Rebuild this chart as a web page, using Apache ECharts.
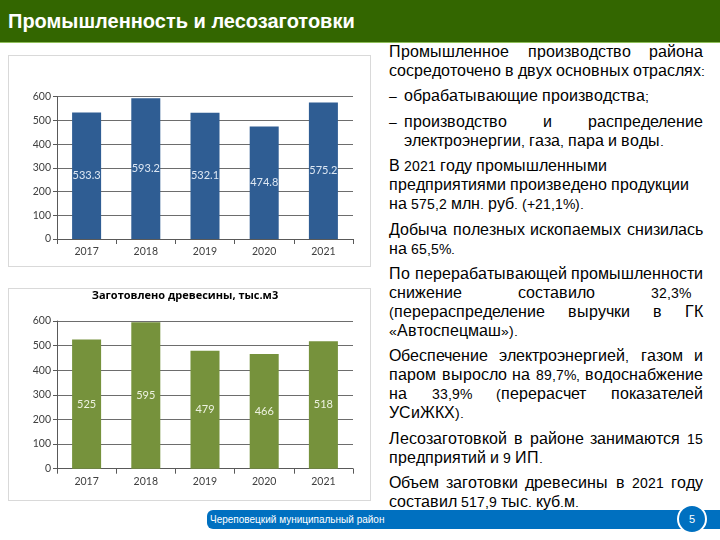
<!DOCTYPE html>
<html><head><meta charset="utf-8">
<script src="https://cdn.jsdelivr.net/npm/echarts@6/dist/echarts.min.js"></script>
<style>
@font-face{font-family:'TxtMix';src:local('Liberation Sans'),local('LiberationSans');unicode-range:U+0000-00FF,U+2000-206F;size-adjust:91%;}
@font-face{font-family:'TxtMix';src:local('Liberation Sans'),local('LiberationSans');unicode-range:U+0400-04FF;}
html,body{margin:0;padding:0;width:720px;height:540px;overflow:hidden;background:#fff;font-family:"Liberation Sans",Arial,sans-serif;}
#header{position:absolute;left:0;top:0;width:720px;height:42px;background:#336600;border-bottom:1px solid #8fbf5a;}
#title{position:absolute;left:8px;top:10px;color:#fff;font-weight:bold;font-size:20px;line-height:22px;white-space:nowrap;}
.box{position:absolute;left:8px;width:363px;border:1px solid #d9d9d9;box-sizing:border-box;background:#fff}
#c1{top:55px;height:212px;}
#c2{top:288px;height:213px;}
#text{position:absolute;left:389px;top:43px;width:314px;font-family:'TxtMix','Liberation Sans',Arial,sans-serif;font-size:15.8px;line-height:19px;color:#000;}
.p{margin-bottom:6.4px}
.l{white-space:nowrap}
.j{text-align:justify;text-align-last:justify}
.b{position:relative;padding-left:15px}
.b .d{position:absolute;left:0;top:0}
#footer{position:absolute;left:207px;top:510px;width:513px;height:19px;background:#0070c0;border-radius:6px 0 0 6px;}
#ftext{position:absolute;left:210px;top:510px;line-height:19px;color:#fff;font-size:10px;white-space:nowrap;}
#circle{position:absolute;left:677px;top:504px;width:30px;height:30px;border-radius:50%;background:#0070c0;border:2px solid #fff;box-sizing:border-box;color:#fff;font-size:11px;text-align:center;line-height:26px}
</style>
</head>
<body>
<div id="header"><div id="title">Промышленность и лесозаготовки</div></div>
<div class="box" id="c1"><div id="chart1" style="width:361px;height:210px"></div></div>
<div class="box" id="c2"><div id="chart2" style="width:361px;height:211px"></div></div>
<div id="text">
  <div class="p">
    <div class="l j">Промышленное производство района</div>
    <div class="l">сосредоточено в двух основных отраслях:</div>
  </div>
  <div class="p b"><span class="d">–</span>
    <div class="l">обрабатывающие производства;</div>
  </div>
  <div class="p b"><span class="d">–</span>
    <div class="l j">производство и распределение</div>
    <div class="l">электроэнергии, газа, пара и воды.</div>
  </div>
  <div class="p">
    <div class="l">В 2021 году промышленными</div>
    <div class="l">предприятиями произведено продукции</div>
    <div class="l">на 575,2 млн. руб. (+21,1%).</div>
  </div>
  <div class="p">
    <div class="l j">Добыча полезных ископаемых снизилась</div>
    <div class="l">на 65,5%.</div>
  </div>
  <div class="p">
    <div class="l j">По перерабатывающей промышленности</div>
    <div class="l j" style="padding-right:12px">снижение составило 32,3%</div>
    <div class="l j">(перераспределение выручки в ГК</div>
    <div class="l">«Автоспецмаш»).</div>
  </div>
  <div class="p">
    <div class="l j">Обеспечение электроэнергией, газом и</div>
    <div class="l j">паром выросло на 89,7%, водоснабжение</div>
    <div class="l j">на 33,9% (перерасчет показателей</div>
    <div class="l">УСиЖКХ).</div>
  </div>
  <div class="p">
    <div class="l j">Лесозаготовкой в районе занимаются 15</div>
    <div class="l">предприятий и 9 ИП.</div>
  </div>
  <div class="p">
    <div class="l j">Объем заготовки древесины в 2021 году</div>
    <div class="l">составил 517,9 тыс. куб.м.</div>
  </div>
</div>
<div id="footer"></div>
<div id="ftext">Череповецкий муниципальный район</div>
<div id="circle">5</div>
<script>
const years = ['2017', '2018', '2019', '2020', '2021'];
const industryValues = [533.3, 593.2, 532.1, 474.8, 575.2];
const timberValues = [525, 595, 479, 466, 518];
const yMin = 0, yMax = 600, yStep = 100;
const timberTitle = 'Заготовлено древесины, тыс.м3';

function build(values, color, labelColor, top, height, titleText) {
  const opt = {
    animation: false,
    grid: { left: 48, top: top, width: 296, height: height },
    xAxis: {
      type: 'category', data: years,
      axisLine: { lineStyle: { color: '#595959', width: 1 } },
      axisTick: { show: true, length: 5, lineStyle: { color: '#595959' } },
      axisLabel: { margin: 7, fontSize: 10.5, color: '#404040', fontFamily: 'Lato' }
    },
    yAxis: {
      type: 'value', min: yMin, max: yMax, interval: yStep,
      axisLine: { show: true, lineStyle: { color: '#595959' } },
      axisTick: { show: true, length: 4, lineStyle: { color: '#595959' } },
      splitLine: { lineStyle: { color: '#6d6d6d', width: 1 } },
      axisLabel: { margin: 6, fontSize: 10.5, color: '#404040', fontFamily: 'Lato' }
    },
    series: [{
      type: 'bar', data: values, barWidth: '49%',
      itemStyle: { color: color },
      label: { show: true, position: 'inside', color: labelColor, fontSize: 11, fontFamily: 'Lato' }
    }]
  };
  if (titleText) {
    opt.title = { text: titleText, left: 176, textAlign: 'center', top: 1, padding: 0,
      textStyle: { fontSize: 11, fontWeight: 'bold', color: '#000', fontFamily: 'Open Sans' } };
  }
  return opt;
}
const ch1 = echarts.init(document.getElementById('chart1'));
ch1.setOption(build(industryValues, '#2f5d93', '#dde7f3', 40.7, 142.3, null));
const ch2 = echarts.init(document.getElementById('chart2'));
ch2.setOption(build(timberValues, '#76923c', '#edf2e0', 32, 147.7, timberTitle));
</script>
</body></html>
